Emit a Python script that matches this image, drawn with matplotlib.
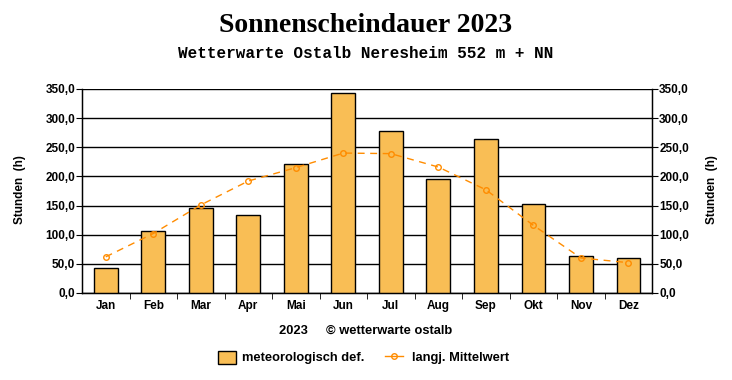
import matplotlib
matplotlib.use('Agg')
import matplotlib.pyplot as plt
from matplotlib.patches import Rectangle
from matplotlib.lines import Line2D

# Sonnenscheindauer 2023 (Stunden)
monate = ['Jan', 'Feb', 'Mar', 'Apr', 'Mai', 'Jun', 'Jul', 'Aug', 'Sep', 'Okt', 'Nov', 'Dez']
stunden_2023 = [43, 107, 146, 134, 221, 343, 278, 196, 264, 153, 64, 60]
mittelwert = [62, 102, 151, 192, 215, 240, 239, 216, 177, 116, 60, 52]
y_ticks = [0, 50, 100, 150, 200, 250, 300, 350]

bar_col = '#F9BE55'
line_col = '#FF8C00'

fig = plt.figure(figsize=(7.32, 3.80), dpi=100)
ax = fig.add_axes([0.112, 0.229, 0.779, 0.537])

x = list(range(len(monate)))
ax.bar(x, stunden_2023, width=0.5, color=bar_col, edgecolor='black', linewidth=1.0, zorder=3)
ax.plot(x, mittelwert, color=line_col, linestyle=(0, (5, 4)), linewidth=1.0,
        marker='o', markersize=4, markerfacecolor='none', markeredgecolor=line_col, zorder=4)

ax.set_xlim(-0.5, len(monate) - 0.5)
ax.set_ylim(0, 350)
ax.set_yticks(y_ticks)
ax.set_yticklabels([f'{v:.1f}'.replace('.', ',') for v in y_ticks])
ax.yaxis.grid(True, color='black', linewidth=1.0, zorder=0)
ax.set_xticks(x)
ax.set_xticklabels(monate)
ax.set_xticks([i + 0.5 for i in x[:-1]], minor=True)
ax.tick_params(axis='x', which='major', length=0, pad=5)
ax.tick_params(axis='x', which='minor', length=4, direction='out', color='black')
ax.tick_params(axis='y', length=4, direction='out', color='black', pad=1)
for lbl in ax.get_xticklabels() + ax.get_yticklabels():
    lbl.set_fontfamily('Liberation Sans')
    lbl.set_fontweight('bold')
    lbl.set_fontsize(8.5)
ax.spines['top'].set_visible(False)
for s in ['left', 'right', 'bottom']:
    ax.spines[s].set_color('black')
    ax.spines[s].set_linewidth(1.0)

ax2 = ax.twinx()
ax2.set_ylim(0, 350)
ax2.set_yticks(y_ticks)
ax2.set_yticklabels([f'{v:.1f}'.replace('.', ',') for v in y_ticks])
ax2.tick_params(axis='y', length=4, direction='out', color='black', pad=1)
for lbl in ax2.get_yticklabels():
    lbl.set_fontfamily('Liberation Sans')
    lbl.set_fontweight('bold')
    lbl.set_fontsize(8.5)
ax2.spines['top'].set_visible(False)

fig.text(0.5, 0.932, 'Sonnenscheindauer 2023', ha='center', va='center',
         fontfamily='Liberation Serif', fontweight='bold', fontsize=20)
fig.text(0.5, 0.858, 'Wetterwarte Ostalb Neresheim 552 m + NN', ha='center', va='center',
         fontfamily='Liberation Mono', fontweight='bold', fontsize=11.5)
fig.text(0.027, 0.5, 'Stunden  (h)', rotation=90, ha='center', va='center',
         fontfamily='Liberation Sans', fontweight='bold', fontsize=8.5)
fig.text(0.973, 0.5, 'Stunden  (h)', rotation=90, ha='center', va='center',
         fontfamily='Liberation Sans', fontweight='bold', fontsize=8.5)
fig.text(0.499, 1 - 331 / 380, '2023     \u00a9 wetterwarte ostalb', ha='center', va='center',
         fontfamily='Liberation Sans', fontweight='bold', fontsize=9.3)

# Legende
fig.patches.append(Rectangle((218 / 732, 1 - 364 / 380), 18 / 732, 13 / 380,
                             transform=fig.transFigure, facecolor=bar_col,
                             edgecolor='black', linewidth=1.0))
fig.text(242 / 732, 1 - 358 / 380, 'meteorologisch def.', ha='left', va='center',
         fontfamily='Liberation Sans', fontweight='bold', fontsize=9.3)
fig.lines.append(Line2D([385 / 732, 403 / 732], [1 - 356 / 380, 1 - 356 / 380],
                        transform=fig.transFigure, color=line_col, linewidth=1.0))
fig.lines.append(Line2D([394 / 732], [1 - 356 / 380], transform=fig.transFigure,
                        marker='o', markersize=4, markerfacecolor='none',
                        markeredgecolor=line_col, linestyle='none'))
fig.text(412 / 732, 1 - 358 / 380, 'langj. Mittelwert', ha='left', va='center',
         fontfamily='Liberation Sans', fontweight='bold', fontsize=9.3)

fig.savefig('out.png', dpi=100)
